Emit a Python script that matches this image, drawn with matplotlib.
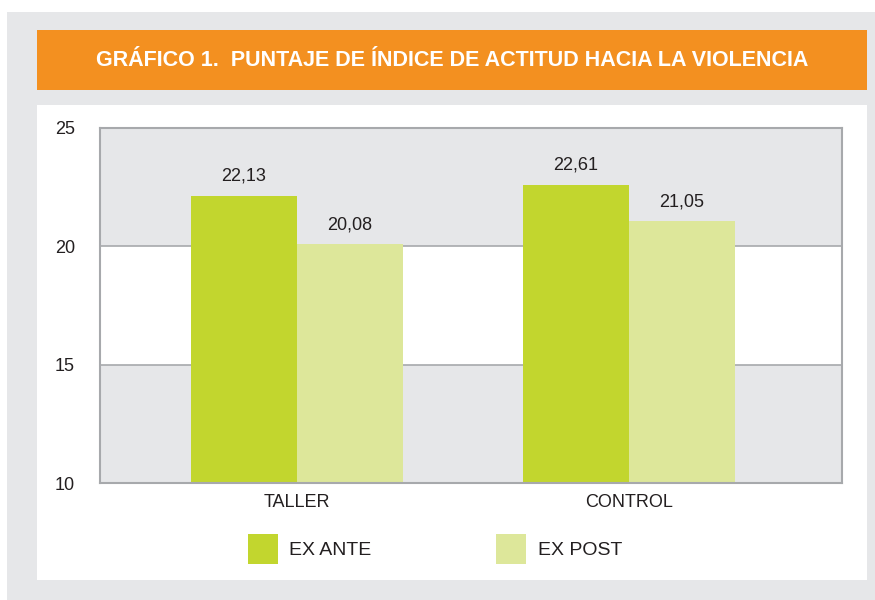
import numpy as np
import matplotlib.pyplot as plt
from matplotlib.patches import Rectangle

categorias = ['TALLER', 'CONTROL']
ex_ante = [22.13, 22.61]
ex_post = [20.08, 21.05]
etiq_ante = ['22,13', '22,61']
etiq_post = ['20,08', '21,05']
series = ['EX ANTE', 'EX POST']

verde = '#c2d62e'
verde_claro = '#dde79a'
gris = '#e6e7e9'
naranja = '#f39020'
FONT = ['Liberation Sans', 'DejaVu Sans']

W, H = 875, 600
fig = plt.figure(figsize=(W / 100, H / 100), dpi=100)
fig.patch.set_facecolor('white')


def caja(x0, y0, x1, y1, color):
    # coordenadas en pixeles desde arriba a la izquierda
    fig.patches.append(Rectangle((x0 / W, 1 - y1 / H), (x1 - x0) / W, (y1 - y0) / H,
                                 transform=fig.transFigure, facecolor=color,
                                 edgecolor='none', zorder=-5))


caja(7, 12, 875, 600, gris)
caja(37, 30, 867, 90, naranja)
caja(37, 105, 867, 580, 'white')

fig.text((37 + 867) / 2 / W, 1 - 61 / H,
         'GRÁFICO 1.  PUNTAJE DE ÍNDICE DE ACTITUD HACIA LA VIOLENCIA',
         color='white', fontsize=15.5, fontweight='bold', family=FONT,
         ha='center', va='center')

# ejes
x0, x1, y0, y1 = 100, 842, 128, 483
ax = fig.add_axes([x0 / W, 1 - y1 / H, (x1 - x0) / W, (y1 - y0) / H])
ax.set_ylim(10, 25)
ax.set_xlim(-0.593, 1.642)
ax.set_facecolor('white')
for lo, hi in [(10, 15), (20, 25)]:
    ax.axhspan(lo, hi, color=gris, zorder=0, lw=0)
for yv in [15, 20]:
    ax.axhline(yv, color='#a7a9ac', lw=1.2, zorder=1)
for s in ax.spines.values():
    s.set_color('#a7a9ac')
    s.set_linewidth(1.5)

x = np.arange(len(categorias))
w = 0.319
b1 = ax.bar(x - w / 2, ex_ante, w, color=verde, zorder=2, label=series[0])
b2 = ax.bar(x + w / 2, ex_post, w, color=verde_claro, zorder=2, label=series[1])
for xi, v, t in zip(x - w / 2, ex_ante, etiq_ante):
    ax.annotate(t, (xi, v), xytext=(0, 8), textcoords='offset points',
                ha='center', va='bottom', fontsize=13, family=FONT, color='#231f20')
for xi, v, t in zip(x + w / 2, ex_post, etiq_post):
    ax.annotate(t, (xi, v), xytext=(0, 8), textcoords='offset points',
                ha='center', va='bottom', fontsize=13, family=FONT, color='#231f20')

ax.set_xticks(x)
ax.set_xticklabels(categorias, fontsize=13, family=FONT, color='#231f20')
ax.set_yticks([10, 15, 20, 25])
ax.set_yticklabels(['10', '15', '20', '25'], fontsize=13, family=FONT, color='#231f20')
ax.tick_params(length=0, pad=8)
ax.tick_params(axis='y', pad=18)

leg = fig.legend(handles=[b1, b2], loc='center', bbox_to_anchor=(435 / W, 1 - 549 / H),
                 ncol=2, frameon=False, handlelength=1.55, handleheight=2.0,
                 columnspacing=6.4, handletextpad=0.6,
                 prop={'family': FONT, 'size': 14})
for t in leg.get_texts():
    t.set_color('#231f20')

fig.savefig('out.png', dpi=100, facecolor=fig.get_facecolor())
